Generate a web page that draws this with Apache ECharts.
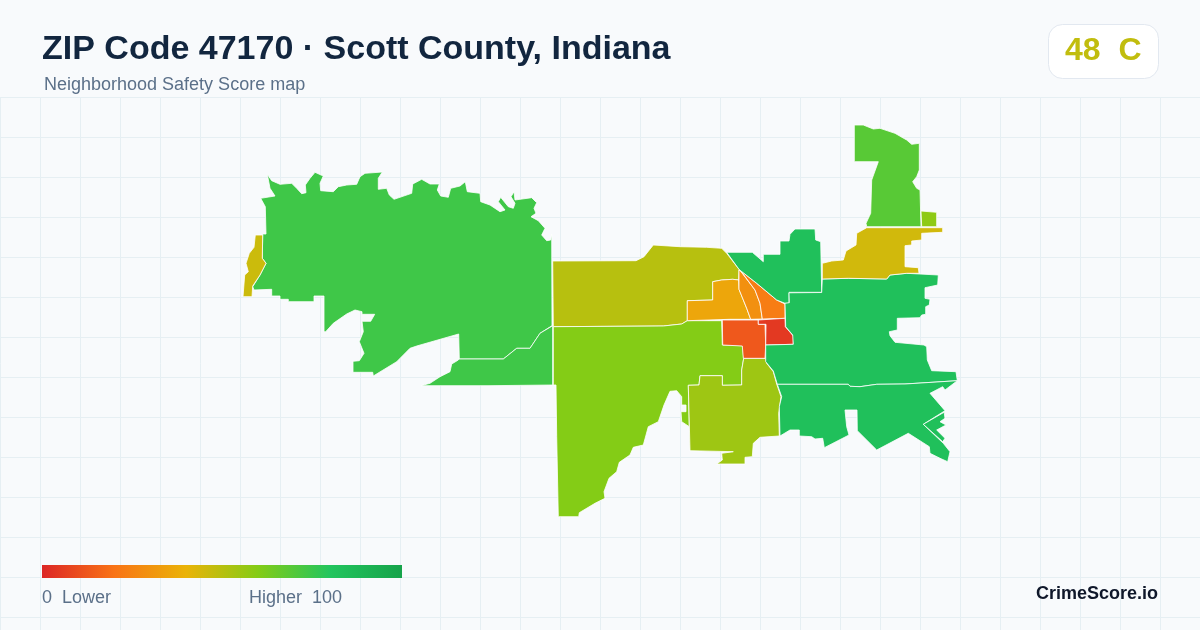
<!DOCTYPE html>
<html>
<head>
<meta charset="utf-8">
<title>ZIP Code 47170</title>
<script src="https://cdn.jsdelivr.net/npm/echarts@6/dist/echarts.min.js"></script>
<style>
html, body { margin: 0; padding: 0; background: #f8fafc; }
#main { width: 1200px; height: 630px; }
</style>
</head>
<body>
<div id="main"></div>
<script>
var title = 'ZIP Code 47170 · Scott County, Indiana';
var subtitle = 'Neighborhood Safety Score map';
var overallScore = 48;
var overallGrade = 'C';

// score scale, stops are evenly spaced from 0 to 100
var scaleColors = ['#dc2626', '#f97316', '#eab308', '#84cc16', '#22c55e', '#16a34a'];
var scaleMin = 0;
var scaleMax = 100;

// one score per area
var areaNames = ['West', 'WestSliver', 'WestStrip', 'NorthMid', 'South', 'SouthCentral', 'Amber', 'MidOrange', 'RightOrange', 'TownSouth', 'TownEast', 'NorthEast', 'East', 'SouthEast', 'Teeth', 'Yellow', 'Tower', 'TowerSmall'];
var areaScores = [74, 74, 46, 50, 60, 55, 36, 29, 23, 13, 5, 83, 83, 83, 83, 45, 69, 58];

// area outlines in map units (y grows downwards)
var West = [[267.3,174.3],[271.7,180.7],[280,184.3],[291.7,183.3],[296.7,188.3],[301.7,193.7],[306,192.7],[305.3,185],[310,178.3],[315,172.3],[323.3,176],[320,183.3],[320.7,190.7],[333.3,191.7],[338.3,186.7],[346.7,185],[356.7,184.3],[360,176.7],[365,173.3],[382.3,172],[378.3,178.3],[378.3,189.3],[386.7,188.3],[389.3,195],[394,199.3],[411.7,193.3],[412.7,184],[421.7,179.3],[430,184],[439.3,184],[437.3,190],[440.7,196],[448.3,197.3],[450.7,188.3],[460,186],[465.3,181.7],[467.3,191.7],[480,193.3],[480.7,201.7],[490,205],[500,211.7],[505,210],[498.3,201.7],[500.7,197.3],[508.3,206.7],[513.3,208.3],[515,203.3],[511,196.7],[514,191.7],[515,200],[520,199.3],[531.7,197.7],[536.7,202.7],[534,208.3],[536,213.3],[531,216.7],[538.3,220.7],[545,228.3],[541.7,235],[546.7,240.7],[550.7,240],[551.7,234],[552,325.7],[540,333.3],[530,348.3],[516.7,348.3],[503.3,359],[459.3,359],[458.7,334],[416.7,346],[410,348.3],[396.7,361.7],[373.3,376],[372.7,372.3],[353,372.3],[353,361.3],[359.3,360.7],[364,353.3],[359.3,341.7],[363.3,331.7],[362,321.3],[370.7,321.3],[374.7,314.3],[362,314.3],[362,311.7],[355,310],[346.7,314],[333.3,323.3],[325.7,331.7],[324,331.7],[324,296],[314,296],[314,301.7],[288.3,301.7],[288.3,299.3],[280,299.3],[280,296],[271.7,296],[271.7,289.3],[254,290],[252.7,286.7],[260,275],[266,263.3],[262.3,258.3],[262.7,234],[266,234],[265.3,206.7],[260.7,198.3],[275,196],[270,188.3]];
var WestSliver = [[459.3,359],[503.3,359],[516.7,348.3],[530,348.3],[540,333.3],[552.7,325.7],[552.7,385],[488,385.7],[421,385.7],[430,383.3],[440,376.7],[450,371.7],[451.7,364],[458.3,360]];
var WestStrip = [[255.3,235],[262.7,235],[262.3,258.3],[266,263.3],[260,275],[252.7,286],[252,296.7],[243,296.7],[244.7,275],[248.3,271.7],[246,263.3],[249.3,253.3],[254,247.3]];
var NorthMid = [[552.7,261],[636,260.7],[644,256.7],[653.3,245],[680,246.7],[706.7,247.3],[721.7,248.3],[726.7,253.3],[739,269.3],[738.7,280],[732.7,279.3],[721.7,280],[712.7,281.7],[712.7,300],[687.3,300.7],[687.3,320.7],[681.7,324],[663.3,326],[553.3,326.7]];
var Amber = [[738.7,280],[739,289.3],[746.7,308.3],[750.7,319.3],[730,319.3],[687.3,320.7],[687.3,300.7],[712.7,300],[712.7,281.7],[721.7,280],[732.7,279.3]];
var MidOrange = [[739,270],[741,271.7],[755,290],[760,303.3],[762.3,319],[750.7,319.3],[746.7,308.3],[739,289.3]];
var RightOrange = [[741,271],[756.7,283.3],[776.7,300],[785,304],[785,318.3],[762.3,319],[760,303.3],[755,290]];
var TownSouth = [[722.3,320],[758.3,320],[758.3,324.3],[765,324.3],[765.7,345],[765,358.3],[743.3,358.3],[742.3,346],[722.7,345]];
var TownEast = [[758.3,320],[785,318.3],[785.3,326.7],[793.3,336],[793.3,344.3],[765.7,345],[766,324.3],[758.3,324.3]];
var South = [[553.3,326.7],[663.3,326],[681.7,324],[687.3,320.7],[721.7,320.7],[722.3,345],[742.7,345.7],[743.7,358.3],[741.7,370],[741.7,385],[722.3,385.3],[722.3,375.7],[700,375.7],[699,385],[688.3,385.3],[689.3,426.7],[681.7,421.7],[681,411.7],[686,411.7],[686,405],[681.7,405],[681.7,396.7],[676.7,390.7],[670,391.3],[664,405],[658.3,421.7],[648.3,426.7],[643.3,445],[633.3,447.3],[630,455],[619.3,462.3],[616.7,471.7],[609,478.3],[604,491.7],[605,498.3],[595,503.3],[579.3,512.7],[578.7,516.7],[558.3,516.7],[556.7,436.7],[556,385],[553.3,385]];
var SouthCentral = [[743.7,358.3],[765.7,358.3],[766.7,363.3],[773.3,371.7],[776.7,384],[781,396.7],[778.7,413.3],[779.3,436],[760,437.3],[753.3,443.3],[752.3,456.7],[745,457.3],[745,464],[716.7,464],[722.3,460],[721.7,453.3],[733.3,451.7],[690,450.7],[688.3,385.3],[699,385],[700,375.7],[722.3,375.7],[722.3,385.3],[741.7,385],[741.7,370]];
var NorthEast = [[726.7,252.3],[752.3,252.3],[763.3,261.7],[763.3,254.3],[780,254.3],[780,241],[789,241],[790,234.3],[795,229],[815,229],[815.7,240],[820.7,241.7],[821.7,292.3],[789,292.3],[789,303.3],[785,303.3],[776.7,300],[756.7,283.3],[741,271],[739,269.3]];
var East = [[789,292.8],[821.7,292.5],[822.3,279],[848.3,278.3],[886.7,279],[890,275],[906.7,273.3],[938.3,275],[937.7,285],[925,287.7],[925,298.3],[930,299.3],[929.3,305],[925.7,306.7],[925.7,314.3],[921.7,315],[920,317.7],[897.3,318.3],[897.3,330],[889.3,331.7],[890,335.7],[895,342.3],[924,345],[926.7,346.7],[927.3,360],[931.7,370.7],[956,371.7],[957.3,380.7],[905,384],[876.7,384.3],[860,386.7],[850,386.3],[848.3,384.3],[777.3,384.3],[773.3,371],[765.7,361.7],[765.7,345],[793.3,344.3],[792.7,335],[785.7,326.7],[785,303.3],[789.3,302.7]];
var SouthEast = [[777.3,384.3],[848.3,384.3],[850,386.3],[860,386.7],[876.7,384.3],[905,384],[957.3,380.7],[945,390],[942.7,386.7],[930,393.3],[945,410.7],[923.3,424.3],[943.3,443.3],[950,451.7],[947.7,461.7],[940,458.3],[930,453.3],[929.3,446.7],[908.3,433.3],[876.7,450],[857.3,430.7],[857,410],[845,410],[846.7,426.7],[849,435],[824.3,447.7],[822.7,438.3],[815,439],[811.7,436.7],[799.3,436],[799.3,430],[790,430],[780,436],[779.3,406.7],[781.7,396.7]];
var Teeth = [[923.3,424.3],[945,411.7],[944.3,413.3],[945,418.3],[940,421.7],[946,425],[936.7,430],[945,438.3],[942.7,441.7]];
var Yellow = [[822.3,263.3],[831.7,261],[843.3,260],[846,251],[856,245],[856.7,233.3],[866.7,227.7],[942.7,227.7],[942.7,232.3],[921.7,233.3],[921.7,240],[911.7,241],[911.7,245],[905,245.7],[905,266.7],[918.3,267.7],[919,273.3],[906.7,273.3],[890,275],[886.7,279],[848.3,278.3],[822.3,279]];
var Tower = [[854.3,125],[863.3,125],[873.3,129],[880,128.3],[895,133.3],[906.7,140],[911.7,144.3],[919.3,143.3],[919.3,170],[916.7,176.7],[912.7,181.7],[916.7,188.3],[920,190],[921,226.7],[866.7,226.7],[866,223.3],[870.7,213.3],[871.7,180],[878.3,161.7],[854.3,161.7]];
var TowerSmall = [[921,211],[936.7,212.3],[936.7,226.7],[921.7,226.7]];

var areaOutlines = [West, WestSliver, WestStrip, NorthMid, South, SouthCentral, Amber, MidOrange, RightOrange, TownSouth, TownEast, NorthEast, East, SouthEast, Teeth, Yellow, Tower, TowerSmall];

var FONT = '"Liberation Sans", Arial, sans-serif';

function $each(list, fn) {
    for (var i = 0; i < list.length; i++) fn(i, list[i]);
}

//build the geojson, map latitudes grow upwards so y is negated
var features = [];
var mapData = [];
$each(areaNames, function (i, name) {
    var ring = [];
    $each(areaOutlines[i], function (j, p) {
        ring.push([p[0], -p[1]]);
    });
    ring.push(ring[0]);
    features.push({
        type: 'Feature',
        properties: { name: name },
        geometry: { type: 'Polygon', coordinates: [ring] }
    });
    mapData.push({ name: name, value: areaScores[i] });
});

echarts.registerMap('zip47170', { type: 'FeatureCollection', features: features });

var myChart = echarts.init(document.getElementById('main'), null, { renderer: 'canvas' });

//legend bar gradient
var legendStops = [];
$each(scaleColors, function (i, c) {
    legendStops.push({ offset: i / (scaleColors.length - 1), color: c });
});

var option = {
    backgroundColor: '#f8fafc',
    animation: false,
    grid: { left: 0, right: 0, top: 97, bottom: 0 },
    xAxis: {
        type: 'value', min: 0, max: 1200, interval: 40,
        axisLine: { show: false }, axisTick: { show: false }, axisLabel: { show: false },
        splitLine: { show: true, lineStyle: { color: '#e6eff3', width: 1 } }
    },
    yAxis: {
        type: 'value', inverse: true, min: 0, max: 533, interval: 40,
        axisLine: { show: false }, axisTick: { show: false }, axisLabel: { show: false },
        splitLine: { show: true, lineStyle: { color: '#e6eff3', width: 1 } }
    },
    visualMap: {
        show: false,
        type: 'continuous',
        seriesIndex: 0,
        min: scaleMin,
        max: scaleMax,
        inRange: { color: scaleColors }
    },
    series: [{
        type: 'map',
        map: 'zip47170',
        roam: false,
        silent: true,
        aspectScale: 1,
        left: 0,
        top: 0,
        width: 1200,
        height: 630,
        boundingCoords: [[0, 0], [1200, -630]],
        label: { show: false },
        itemStyle: { borderColor: '#ffffff', borderWidth: 0.8 },
        emphasis: { disabled: true },
        select: { disabled: true },
        data: mapData
    }],
    graphic: [
        { type: 'text', z: 100, left: 42, top: 33, style: { text: title, font: 'bold 34px ' + FONT, fill: '#12263f' } },
        { type: 'text', z: 100, left: 44, top: 76, style: { text: subtitle, font: '18px ' + FONT, fill: '#5b7089' } },
        { type: 'rect', z: 100, left: 1048, top: 24, shape: { width: 110, height: 54, r: 14 }, style: { fill: '#ffffff', stroke: '#e2e8f0', lineWidth: 1 } },
        { type: 'text', z: 101, left: 1065, top: 35, style: { text: overallScore + '  ' + overallGrade, font: 'bold 32px ' + FONT, fill: '#c1bd0e' } },
        { type: 'rect', z: 100, left: 42, top: 565, shape: { width: 360, height: 13 }, style: { fill: new echarts.graphic.LinearGradient(0, 0, 1, 0, legendStops) } },
        { type: 'text', z: 100, left: 42, top: 589, style: { text: scaleMin + '  Lower', font: '18px ' + FONT, fill: '#5b7089' } },
        { type: 'text', z: 100, left: 249, top: 589, style: { text: 'Higher  ' + scaleMax, font: '18px ' + FONT, fill: '#5b7089' } },
        { type: 'text', z: 100, left: 1036, top: 585, style: { text: 'CrimeScore.io', font: 'bold 18px ' + FONT, fill: '#0f172a' } }
    ]
};

myChart.setOption(option);
</script>
</body>
</html>
